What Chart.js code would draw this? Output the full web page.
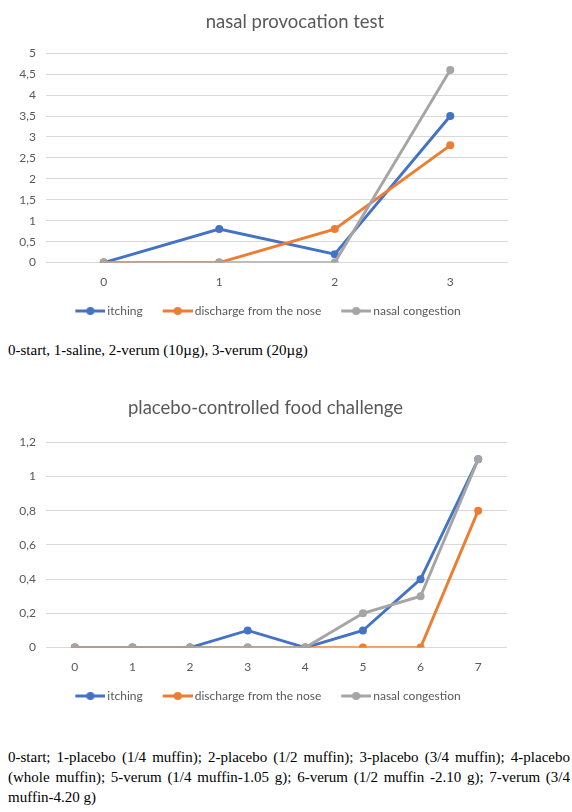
<!DOCTYPE html>
<html>
<head>
<meta charset="utf-8">
<script src="https://cdn.jsdelivr.net/npm/chart.js@4"></script>
<style>
  html, body { margin: 0; padding: 0; background: #fff; width: 572px; height: 812px; overflow: hidden; }
  .box { position: absolute; left: 0; width: 572px; }
  .cap { position: absolute; left: 8px; width: 562px; font-family: "Liberation Serif", "Times New Roman", serif;
         font-size: 15px; line-height: 20px; color: #000; text-align: justify; }
</style>
</head>
<body>
<div class="box" style="top:0;height:340px"><canvas id="nasal" width="572" height="340"></canvas></div>
<div class="cap" style="top:340px">0-start, 1-saline, 2-verum (10µg), 3-verum (20µg)</div>
<div class="box" style="top:386px;height:340px"><canvas id="food" width="572" height="340"></canvas></div>
<div class="cap" style="top:747px">0-start; 1-placebo (1/4 muffin); 2-placebo (1/2 muffin); 3-placebo (3/4 muffin); 4-placebo (whole muffin); 5-verum (1/4 muffin-1.05 g); 6-verum (1/2 muffin -2.10 g); 7-verum (3/4 muffin-4.20 g)</div>
<script>
// Symptom series
const seriesNames = ['itching', 'discharge from the nose', 'nasal congestion'];
const seriesColors = ['#4472C4', '#ED7D31', '#A5A5A5'];

// Nasal provocation test: steps 0..3
const nasalSteps = ['0', '1', '2', '3'];
const nasalItching = [0, 0.8, 0.2, 3.5];
const nasalDischarge = [0, 0, 0.8, 2.8];
const nasalCongestion = [0, 0, 0, 4.6];

// Placebo-controlled food challenge: steps 0..7
const foodSteps = ['0', '1', '2', '3', '4', '5', '6', '7'];
const foodItching = [0, 0, 0, 0.1, 0, 0.1, 0.4, 1.1];
const foodDischarge = [0, 0, 0, 0, 0, 0, 0, 0.8];
const foodCongestion = [0, 0, 0, 0, 0, 0.2, 0.3, 1.1];

const TEXT = '#595959';
const FONT = 'Lato, "Open Sans", sans-serif';

// Legend marker: short line with a dot in the middle (drawn right of the image centre)
function lineMarker(color) {
  const c = document.createElement('canvas');
  c.width = 37; c.height = 10;
  const g = c.getContext('2d');
  g.strokeStyle = color; g.lineWidth = 3;
  g.beginPath(); g.moveTo(7, 5); g.lineTo(37, 5); g.stroke();
  g.fillStyle = color;
  g.beginPath(); g.arc(22, 5, 4, 0, Math.PI * 2); g.fill();
  return c;
}

// Shifts title / legend boxes after layout
const boxShift = {
  id: 'boxShift',
  afterLayout(chart, args, opts) {
    const t = chart.titleBlock, l = chart.legend;
    if (t && opts.title) { t.left += opts.title; t.right += opts.title; }
    if (l && opts.legend) { l.left += opts.legend; l.right += opts.legend; }
    if (l && opts.legendY) { l.top += opts.legendY; l.bottom += opts.legendY; }
  }
};

function decimalComma(v) {
  return String(Number(v.toFixed(2))).replace('.', ',');
}

function makeChart(id, title, steps, values, yMax, yStep, pad, shifts, titleGap) {
  const datasets = values.map((vals, i) => ({
    label: seriesNames[i],
    data: vals,
    borderColor: seriesColors[i],
    backgroundColor: seriesColors[i],
    borderWidth: 2.9,
    pointRadius: 4,
    pointHoverRadius: 4,
    pointBorderWidth: 0,
    tension: 0,
    order: values.length - 1 - i
  }));
  return new Chart(document.getElementById(id), {
    type: 'line',
    data: { labels: steps, datasets },
    plugins: [boxShift],
    options: {
      responsive: false,
      animation: false,
      layout: { padding: { left: 0, right: pad.right, top: 0, bottom: pad.bottom } },
      scales: {
        x: {
          offset: true,
          grid: { display: false, drawTicks: false },
          border: { display: false },
          ticks: { color: TEXT, font: { family: FONT, size: 12 }, padding: 12 }
        },
        y: {
          min: 0, max: yMax,
          afterFit(axis) { axis.width = 46; },
          grid: { color: '#D9D9D9', lineWidth: 1, drawTicks: false },
          border: { display: false },
          ticks: { stepSize: yStep, color: TEXT, font: { family: FONT, size: 12 }, padding: 10,
                   callback: decimalComma }
        }
      },
      plugins: {
        tooltip: { enabled: false },
        boxShift: shifts,
        title: {
          display: true, text: title, color: TEXT,
          font: { family: FONT, size: 18.5, weight: 'normal' },
          padding: { top: 11, bottom: titleGap }
        },
        legend: {
          position: 'bottom',
          labels: {
            color: TEXT,
            font: { family: FONT, size: 12 },
            usePointStyle: true,
            pointStyleWidth: 29,
            padding: 17,
            generateLabels(chart) {
              const items = Chart.defaults.plugins.legend.labels.generateLabels(chart);
              items.sort((a, b) => a.datasetIndex - b.datasetIndex);
              items.forEach(it => { it.pointStyle = lineMarker(seriesColors[it.datasetIndex]); });
              return items;
            }
          }
        }
      }
    }
  });
}

makeChart('nasal', 'nasal provocation test', nasalSteps,
  [nasalItching, nasalDischarge, nasalCongestion], 5, 0.5, { right: 64, bottom: 0 },
  { title: 41, legend: 12.5, legendY: -13 }, 20);
makeChart('food', 'placebo-controlled food challenge', foodSteps,
  [foodItching, foodDischarge, foodCongestion], 1.2, 0.2, { right: 65, bottom: 1 },
  { title: 12, legend: 13, legendY: -13 }, 23);
</script>
</body>
</html>
